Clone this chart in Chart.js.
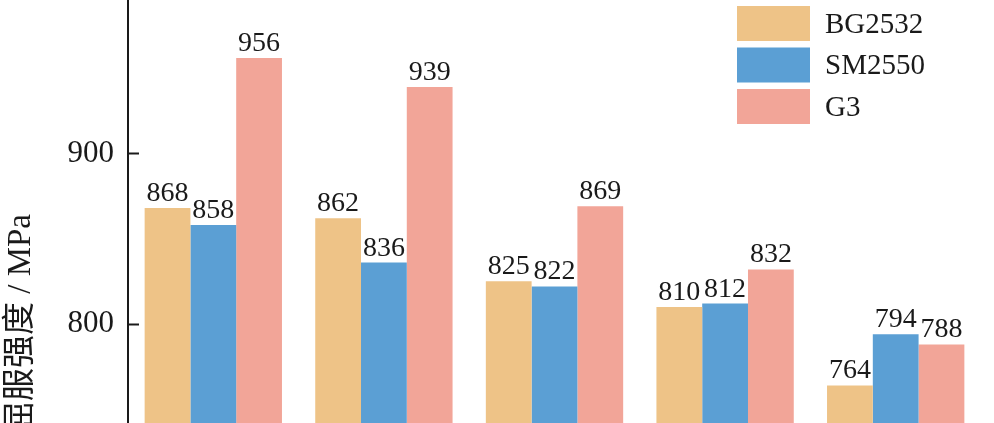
<!DOCTYPE html>
<html>
<head>
<meta charset="utf-8">
<script src="https://cdn.jsdelivr.net/npm/chart.js@4/dist/chart.umd.min.js"></script>
<style>
    html, body { margin: 0; padding: 0; background: #fff; overflow: hidden; }
    #wrap { width: 994px; height: 423px; overflow: hidden; }
</style>
</head>
<body>
<div id="wrap">
    <canvas id="strengthChart" width="994" height="650"></canvas>
</div>
<script>
// Chart data
const categories = ['A', 'B', 'C', 'D', 'E'];
const seriesNames = ['BG2532', 'SM2550', 'G3'];
const bg2532 = [868, 862, 825, 810, 764];
const sm2550 = [858, 836, 822, 812, 794];
const g3 = [956, 939, 869, 832, 788];
const yTicks = [800, 900];
const yTitle = '屈服强度 / MPa';

const colors = ['#EEC387', '#5B9FD4', '#F2A598'];
const serif = '"Liberation Serif", "Noto Sans CJK SC", serif';

// value labels above each bar
const valueLabels = {
    id: 'valueLabels',
    afterDatasetsDraw(chart) {
        const ctx = chart.ctx;
        ctx.save();
        ctx.font = '28px ' + serif;
        ctx.fillStyle = '#1a1a1a';
        ctx.textAlign = 'center';
        ctx.textBaseline = 'alphabetic';
        chart.data.datasets.forEach((ds, i) => {
            chart.getDatasetMeta(i).data.forEach((bar, j) => {
                ctx.fillText(ds.data[j], bar.x, bar.y - 7);
            });
        });
        ctx.restore();
    }
};

// inward tick marks on the y axis
const innerTicks = {
    id: 'innerTicks',
    afterDraw(chart) {
        const ctx = chart.ctx;
        const y = chart.scales.y;
        ctx.save();
        ctx.strokeStyle = '#1a1a1a';
        ctx.lineWidth = 2;
        yTicks.forEach(v => {
            const py = Math.round(y.getPixelForValue(v)) + 0.5;
            ctx.beginPath();
            ctx.moveTo(y.right, py);
            ctx.lineTo(y.right + 11, py);
            ctx.stroke();
        });
        ctx.restore();
    }
};

// legend boxes in the top right corner
const boxLegend = {
    id: 'boxLegend',
    afterDraw(chart) {
        const ctx = chart.ctx;
        ctx.save();
        ctx.font = '29px ' + serif;
        ctx.textBaseline = 'middle';
        chart.data.datasets.forEach((ds, i) => {
            const top = 6 + i * 41.5;
            ctx.fillStyle = ds.backgroundColor;
            ctx.fillRect(737, top, 73, 35);
            ctx.fillStyle = '#1a1a1a';
            ctx.fillText(ds.label, 825, top + 19);
        });
        ctx.restore();
    }
};

const ctx = document.getElementById('strengthChart').getContext('2d');
new Chart(ctx, {
    type: 'bar',
    data: {
        labels: categories,
        datasets: [bg2532, sm2550, g3].map((vals, i) => ({
            label: seriesNames[i],
            data: vals,
            backgroundColor: colors[i],
            borderWidth: 0,
            categoryPercentage: 0.805,
            barPercentage: 1
        }))
    },
    options: {
        responsive: false,
        animation: false,
        devicePixelRatio: 1,
        layout: { padding: { top: 0, right: 13, bottom: 0, left: 0 } },
        plugins: {
            legend: { display: false },
            tooltip: { enabled: false }
        },
        scales: {
            x: {
                ticks: { display: false },
                grid: { display: false },
                border: { color: '#1a1a1a', width: 2 },
                afterFit: s => { s.height = 2; s.paddingLeft = 0; s.paddingRight = 0; }
            },
            y: {
                min: 610,
                max: 990,
                afterBuildTicks: s => { s.ticks = yTicks.map(v => ({ value: v })); },
                afterFit: s => { s.width = 128; s.paddingTop = 0; s.paddingBottom = 0; },
                grid: { display: false, drawTicks: false },
                border: { color: '#1a1a1a', width: 2 },
                ticks: {
                    color: '#1a1a1a',
                    padding: 14,
                    font: { family: serif, size: 31 }
                },
                title: {
                    display: true,
                    text: yTitle,
                    color: '#1a1a1a',
                    padding: { top: 2, bottom: 0 },
                    font: { family: serif, size: 33 }
                }
            }
        }
    },
    plugins: [valueLabels, innerTicks, boxLegend]
});
</script>
</body>
</html>
